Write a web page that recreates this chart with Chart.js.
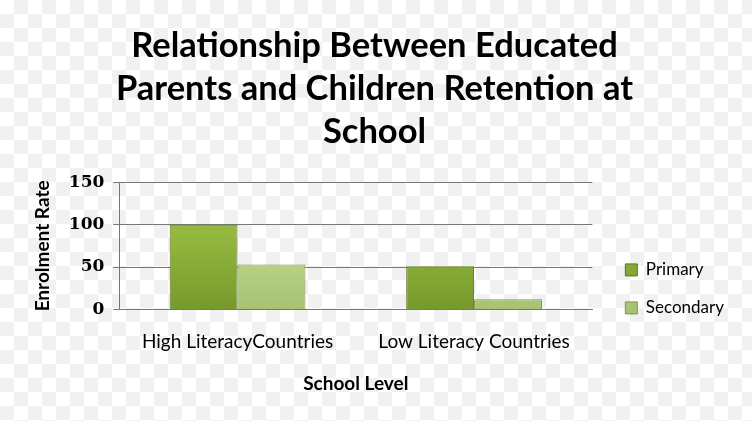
<!DOCTYPE html>
<html>
<head>
<meta charset="utf-8">
<script src="https://cdn.jsdelivr.net/npm/chart.js@4.4.0/dist/chart.umd.min.js"></script>
<style>
  html, body { margin: 0; padding: 0; }
  body {
    width: 752px; height: 421px; overflow: hidden;
    background-color: #ffffff;
    background-image: conic-gradient(#f1f1f1 25%, #ffffff 0 50%, #f1f1f1 0 75%, #ffffff 0);
    background-size: 28px 28px;
  }
  #wrap { width: 752px; height: 421px; }
</style>
</head>
<body>
<div id="wrap"><canvas id="myChart" width="752" height="421"></canvas></div>
<script>
// data
var categories = ['High LiteracyCountries', 'Low Literacy Countries'];
var primary = [100, 51];
var secondary = [53, 12];
var yTicks = [0, 50, 100, 150];

var ctx = document.getElementById('myChart').getContext('2d');

// bevel-ish vertical gradient for the bars
function barFill(light, mid, dark) {
  return function (c) {
    var area = c.chart.chartArea;
    if (!area) return mid;
    var g = c.chart.ctx.createLinearGradient(0, area.top, 0, area.bottom);
    g.addColorStop(0, light);
    g.addColorStop(0.5, mid);
    g.addColorStop(1, dark);
    return g;
  };
}

// nudge the legend down/right so it sits beside the lower half of the plot
var legendNudge = {
  id: 'legendNudge',
  afterLayout: function (chart) {
    var lg = chart.legend;
    lg.left += 12; lg.right += 12;
    lg.top += 28; lg.bottom += 28;
  },
};

var myChart = new Chart(ctx, {
  type: 'bar',
  data: {
    labels: categories,
    datasets: [
      {
        label: 'Primary',
        data: primary,
        backgroundColor: barFill('#a6c84c', '#8fb33c', '#77992c'),
        borderColor: '#5a7620',
        borderWidth: 1,
      },
      {
        label: 'Secondary',
        data: secondary,
        backgroundColor: barFill('#d3e6ad', '#bdd790', '#a6c272'),
        borderColor: '#7d944f',
        borderWidth: 1,
      },
    ],
  },
  plugins: [legendNudge],
  options: {
    responsive: false,
    animation: false,
    layout: { padding: { left: 27, right: 30, bottom: 22 } },
    datasets: {
      bar: { barPercentage: 1.0, categoryPercentage: 0.574 },
    },
    plugins: {
      title: {
        display: true,
        text: ['Relationship Between Educated', 'Parents and Children Retention at', 'School'],
        color: '#000',
        font: { family: 'Lato', size: 34.5, weight: 'bold', lineHeight: 1.25 },
        padding: { top: 24, bottom: 29 },
      },
      legend: {
        position: 'right',
        align: 'end',
        fullSize: false,
        labels: {
          color: '#000',
          font: { family: 'Lato', size: 17 },
          boxWidth: 12,
          boxHeight: 12,
          padding: 21,
        },
      },
      tooltip: { enabled: false },
    },
    scales: {
      x: {
        grid: { display: false },
        border: { display: true, color: '#777' },
        ticks: {
          color: '#000',
          font: { family: 'Lato', size: 19 },
          padding: 13,
        },
        title: {
          display: true,
          text: 'School Level',
          color: '#000',
          font: { family: 'Lato', size: 19, weight: 'bold' },
          padding: { top: 6 },
        },
      },
      y: {
        min: 0,
        max: 150,
        afterBuildTicks: function (axis) {
          axis.ticks = yTicks.map(function (v) { return { value: v }; });
        },
        grid: { color: '#777', tickLength: 6 },
        border: { display: true, color: '#777' },
        ticks: {
          color: '#000',
          font: { family: 'DejaVu Serif', size: 17, weight: 'bold' },
          padding: 9,
        },
        title: {
          display: true,
          text: 'Enrolment Rate',
          color: '#000',
          font: { family: 'Lato', size: 19, weight: 'bold' },
          padding: { bottom: 6 },
        },
      },
    },
  },
});
</script>
</body>
</html>
